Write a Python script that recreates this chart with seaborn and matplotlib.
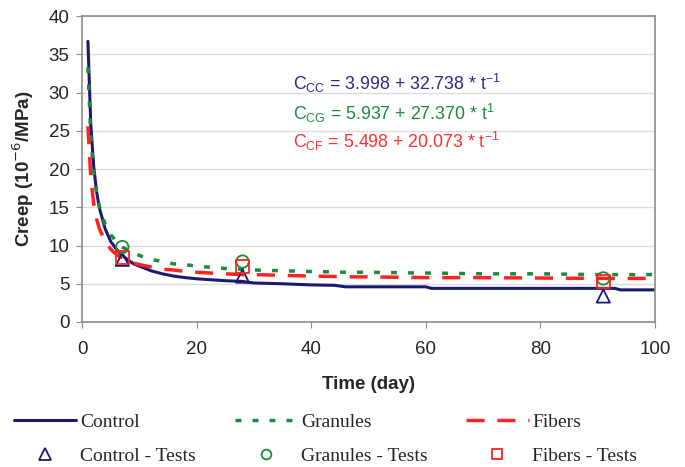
import pandas as pd
import matplotlib
matplotlib.use("Agg")
from matplotlib import pyplot as plt
from matplotlib.lines import Line2D
import seaborn as sns

# ---------------------------------------------------------------
# Creep curves
# ---------------------------------------------------------------
time_days = [1, 1.5, 2, 2.5, 3, 4, 5, 6, 7, 8, 9, 10, 12, 14, 16, 18, 20, 25, 28, 30,
             35, 40, 44, 46, 50, 60, 61, 70, 80, 90, 93, 94, 100]
control = [36.7, 25.8, 20.4, 17.1, 14.9, 12.2, 10.5, 9.5, 8.7, 8.1, 7.6, 7.3, 6.7, 6.3,
           6.0, 5.8, 5.65, 5.4, 5.3, 5.1, 5.0, 4.85, 4.8, 4.6, 4.6, 4.6, 4.4, 4.4, 4.4,
           4.4, 4.4, 4.2, 4.2]
granules = [33.3, 24.2, 19.6, 16.9, 15.1, 12.8, 11.4, 10.5, 9.8, 9.4, 9.0, 8.7, 8.2, 7.9,
            7.6, 7.5, 7.3, 7.0, 6.9, 6.8, 6.7, 6.6, 6.55, 6.5, 6.5, 6.4, 6.4, 6.3, 6.3,
            6.2, 6.2, 6.2, 6.2]
fibers = [25.6, 18.9, 15.5, 13.5, 12.2, 10.5, 9.5, 8.8, 8.4, 8.0, 7.7, 7.5, 7.2, 6.9,
          6.8, 6.6, 6.5, 6.3, 6.2, 6.2, 6.1, 6.0, 5.95, 5.9, 5.9, 5.8, 5.8, 5.8, 5.75,
          5.7, 5.7, 5.7, 5.7]

# test results
test_days = [7, 28, 91]
control_tests = [8.2, 6.0, 3.4]
granules_tests = [9.8, 7.9, 5.7]
fibers_tests = [8.4, 7.3, 5.3]

NAVY = '#1c1a6e'
GREEN = '#1e8a3a'
RED = '#ff2222'
DOT = (0, (1.7, 3.2))
DASH = (0, (5.2, 3.7))

df = pd.DataFrame({'t': time_days, 'Control': control, 'Granules': granules, 'Fibers': fibers})
tests = pd.DataFrame({'t': test_days, 'Control': control_tests,
                      'Granules': granules_tests, 'Fibers': fibers_tests})

sns.set_style('white')
plt.rcParams['font.family'] = ['Liberation Sans', 'DejaVu Sans']

fig = plt.figure(figsize=(6.85, 4.67), dpi=100)
ax = fig.add_axes([0.12, 0.3105, 0.836, 0.655])

sns.lineplot(x='t', y='Control', data=df, color=NAVY, linewidth=2.2, ax=ax)
sns.lineplot(x='t', y='Granules', data=df, color=GREEN, linewidth=2.5, ax=ax, linestyle=DOT)
sns.lineplot(x='t', y='Fibers', data=df, color=RED, linewidth=2.5, ax=ax, linestyle=DASH)

sns.scatterplot(x='t', y='Control', data=tests, marker='^', s=90, facecolor='none',
                edgecolor=NAVY, linewidth=1.3, ax=ax, zorder=5)
sns.scatterplot(x='t', y='Granules', data=tests, marker='o', s=80, facecolor='none',
                edgecolor=GREEN, linewidth=1.3, ax=ax, zorder=5)
sns.scatterplot(x='t', y='Fibers', data=tests, marker='s', s=85, facecolor='none',
                edgecolor=RED, linewidth=1.3, ax=ax, zorder=5)

ax.set_xlim(0, 100)
ax.set_ylim(0, 40)
ax.set_xticks(range(0, 101, 20))
ax.set_yticks(range(0, 41, 5))
ax.yaxis.grid(True, color='#dcdcdc', linewidth=1)
ax.set_axisbelow(True)
for s in ax.spines.values():
    s.set_color('#8c8c8c')
    s.set_linewidth(1.2)
ax.tick_params(axis='both', direction='out', length=4, color='#8c8c8c', labelsize=13.5,
               bottom=True, left=True)
ax.tick_params(axis='x', pad=10)
ax.tick_params(axis='y', pad=5)
ax.set_xlabel('Time (day)', fontsize=13.5, fontweight='bold', labelpad=13)
ax.set_ylabel('Creep (10$^{-6}$/MPa)', fontsize=13.5, fontweight='bold', labelpad=9)

# model equations
eq_size = 12.8
ax.text(0.368, 0.758, r'C$_{\mathregular{CC}}$ = 3.998 + 32.738 * t$^{\mathregular{-1}}$',
        transform=ax.transAxes, color='#2b2b85', fontsize=eq_size, va='baseline')
ax.text(0.368, 0.660, r'C$_{\mathregular{CG}}$ = 5.937 + 27.370 * t$^{\mathregular{1}}$',
        transform=ax.transAxes, color='#1e8a3a', fontsize=eq_size, va='baseline')
ax.text(0.368, 0.569, r'C$_{\mathregular{CF}}$ = 5.498 + 20.073 * t$^{\mathregular{-1}}$',
        transform=ax.transAxes, color='#ff3030', fontsize=eq_size, va='baseline')

handles = [
    Line2D([], [], color=NAVY, lw=2.2),
    Line2D([], [], color=NAVY, marker='^', ls='', mfc='none', ms=8, mew=1.3),
    Line2D([], [], color=GREEN, lw=2.5, ls=DOT),
    Line2D([], [], color=GREEN, marker='o', ls='', mfc='none', ms=7, mew=1.3),
    Line2D([], [], color=RED, lw=2.5, ls=DASH),
    Line2D([], [], color=RED, marker='s', ls='', mfc='none', ms=7, mew=1.3),
]
labels = ['Control', 'Control - Tests', 'Granules', 'Granules - Tests', 'Fibers', 'Fibers - Tests']
fig.legend(handles, labels, loc='upper left', bbox_to_anchor=(14 / 685, 1 - 413 / 467), ncol=3,
           frameon=False, prop={'family': 'Liberation Serif', 'size': 14},
           handlelength=3.2, columnspacing=2.0, handletextpad=0.2, labelspacing=0.85,
           borderpad=0, borderaxespad=0)

plt.savefig('out.png', dpi=100)
